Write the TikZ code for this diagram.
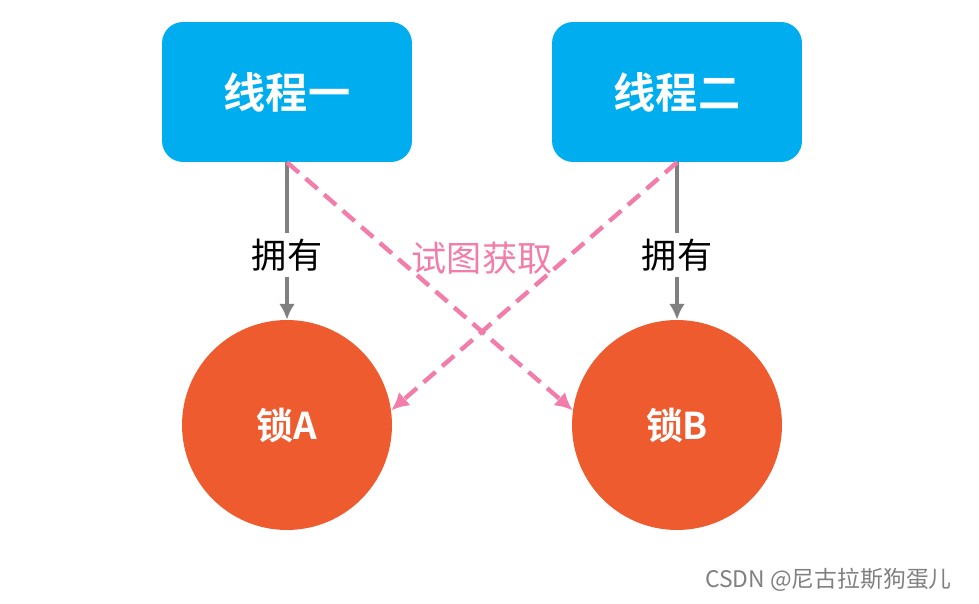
\documentclass[tikz,border=0pt]{standalone}
\usepackage{fontspec}
\newfontfamily\cjk{Noto Sans CJK SC}
\newfontfamily\cjkbold{Noto Sans CJK SC Bold}
\usetikzlibrary{positioning, arrows.meta}
\definecolor{threadblue}{HTML}{00AEEF}
\definecolor{lockred}{HTML}{EE5B2F}
\definecolor{trypink}{HTML}{F27DAA}
\begin{document}
\begin{tikzpicture}[x=0.02cm,y=-0.02cm,
    thread/.style={fill=threadblue, rounded corners=12pt, minimum width=5cm, minimum height=2.8cm, text=white, font=\cjkbold\fontsize{24}{24}\selectfont},
    lock/.style={circle, fill=lockred, minimum size=4.2cm, text=white, font=\cjkbold\fontsize{21}{21}\selectfont},
    own/.style={draw=gray, line width=2.5pt},
    try/.style={draw=trypink, line width=2.5pt, dashed, dash pattern=on 9pt off 5pt, -{Latex[length=10pt,width=10pt]}}]
   \useasboundingbox (0,0) rectangle (979,604);

   \node[thread] (t1) at (287,92) {线程一};
   \node[thread] (t2) at (677,92) {线程二};
   \node[lock] (a) at (287,425) {锁A};
   \node[lock] (b) at (677,425) {锁B};

   \node[font=\cjk\fontsize{20}{20}\selectfont] (o1) at (287,255) {拥有};
   \node[font=\cjk\fontsize{20}{20}\selectfont] (o2) at (677,255) {拥有};
   \node[font=\cjk\fontsize{20}{20}\selectfont, text=trypink] (tr) at (482,258) {试图获取};

   \draw[own] (t1.south) -- (o1.north);
   \draw[own, -{Latex[length=9pt,width=9pt]}] (o1.south) -- (a.north);
   \draw[own] (t2.south) -- (o2.north);
   \draw[own, -{Latex[length=9pt,width=9pt]}] (o2.south) -- (b.north);

   \draw[try] (t1.south) -- (b.172);
   \draw[try] (t2.south) -- (a.8);

   \node[font=\cjk\fontsize{13}{13}\selectfont, text=gray, anchor=east] (wm) at (958,580) {CSDN @尼古拉斯狗蛋儿};
\end{tikzpicture}
\end{document}
